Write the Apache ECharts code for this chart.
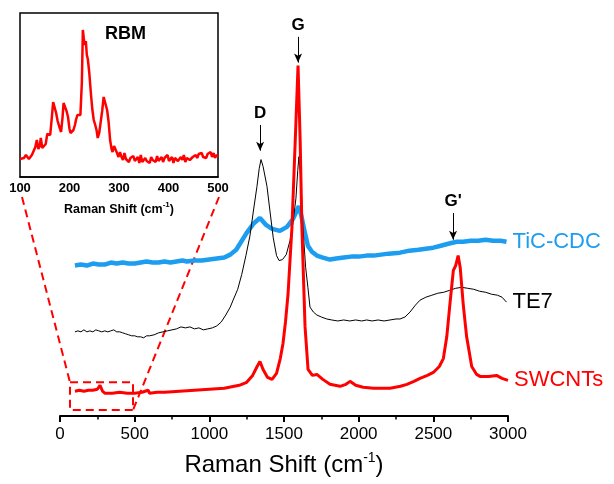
<!DOCTYPE html>
<html>
<head>
<meta charset="utf-8">
<script src="https://cdn.jsdelivr.net/npm/echarts@6/dist/echarts.min.js"></script>
<style>
  html, body { margin: 0; padding: 0; background: #fff; }
  #main { width: 614px; height: 484px; }
</style>
</head>
<body>
<div id="main"></div>
<script>
// Raman spectra, intensities are offset arbitrary units
var swcnts = [[100,25],[130,26],[160,25],[190,26],[220,26],[250,27],[268,31],[285,25],[300,23],[350,23],[400,24],[450,23],[500,23],[550,24],[590,26],[600,23],[650,24],[700,24],[800,25],[900,26],[1000,27],[1100,28],[1200,31],[1250,34],[1290,41],[1320,50],[1339,55],[1360,47],[1390,39],[1420,37],[1450,43],[1475,58],[1493,73],[1510,95],[1527,123],[1553,190],[1574,273],[1594,354],[1608,280],[1620,190],[1641,90],[1661,47],[1690,41],[1720,42],[1760,37],[1808,32],[1875,30],[1915,32],[1942,35],[1980,31],[2030,29],[2100,28],[2210,28],[2280,30],[2323,32],[2370,35],[2411,38],[2460,41],[2500,44],[2540,50],[2567,58],[2590,80],[2611,113],[2634,147],[2650,152],[2666,162],[2680,150],[2700,113],[2723,80],[2757,50],[2790,42],[2813,40],[2870,40],[2923,41],[2960,38],[3000,36]];

var te7 = [[100,85],[120,86],[140,85],[160,87],[180,85],[200,86],[220,85],[240,87],[260,86],[280,85],[300,86],[320,85],[340,86],[360,87],[380,85],[400,85],[420,84],[440,83],[460,82],[480,81],[500,81],[520,80],[540,80],[560,79],[580,81],[600,81],[630,82],[660,84],[690,85],[720,86],[750,87],[780,88],[810,90],[840,89],[870,90],[900,88],[930,89],[960,87],[990,88],[1020,89],[1050,91],[1080,95],[1110,102],[1140,110],[1159,117],[1190,128],[1217,143],[1245,162],[1272,182],[1295,207],[1319,232],[1334,250],[1346,259],[1360,252],[1386,232],[1406,207],[1428,180],[1450,162],[1467,157],[1490,158],[1515,163],[1540,177],[1560,195],[1580,220],[1592,248],[1600,262],[1612,240],[1627,190],[1645,150],[1660,130],[1674,110],[1697,105],[1720,102],[1750,100],[1786,98],[1820,97],[1860,96],[1900,97],[1940,96],[1980,97],[2020,96],[2054,97],[2090,96],[2130,97],[2170,96],[2210,97],[2250,98],[2277,98],[2310,100],[2344,105],[2380,112],[2411,117],[2450,120],[2490,122],[2530,124],[2570,125],[2610,127],[2650,129],[2690,130],[2730,129],[2770,128],[2810,126],[2850,125],[2890,123],[2930,122],[2960,120],[2990,115]];

var ticCdc = [[100,152],[140,153],[180,152],[220,154],[260,153],[300,153],[340,155],[380,154],[420,155],[460,154],[500,154],[540,155],[580,156],[620,155],[660,155],[700,156],[740,155],[780,156],[820,157],[850,156],[900,157],[950,157],[1000,158],[1050,159],[1100,160],[1140,163],[1180,168],[1205,174],[1250,185],[1300,195],[1339,200],[1380,193],[1420,189],[1473,187],[1520,191],[1560,199],[1585,207],[1599,212],[1615,203],[1640,185],[1660,172],[1687,166],[1720,162],[1760,160],[1808,158],[1850,159],[1900,160],[1950,161],[2000,161],[2054,162],[2100,162],[2150,163],[2200,164],[2277,165],[2340,167],[2400,168],[2450,169],[2500,170],[2550,172],[2600,174],[2656,176],[2700,176],[2750,177],[2800,177],[2850,178],[2900,177],[2950,177],[2990,176]];

// inset: RBM region of SWCNTs
var rbm = [[100,18],[104,17],[108,19],[112,22],[115,23],[118,18],[121,19],[124,22],[128,24],[131,30],[134,37],[137,28],[140,31],[142,39],[145,29],[149,31],[152,33],[155,43],[158,45],[161,42],[164,58],[167,75],[170,73],[173,64],[176,56],[179,51],[183,45],[186,60],[188,74],[191,72],[194,66],[197,60],[200,48],[202,44],[205,42],[208,47],[211,52],[213,57],[216,62],[219,64],[222,62],[225,95],[227,147],[229,138],[231,132],[233,136],[235,122],[237,118],[240,104],[243,85],[246,68],[249,57],[252,52],[255,46],[257,39],[260,44],[263,55],[266,66],[269,80],[273,82],[276,67],[279,55],[282,37],[285,28],[287,25],[290,31],[293,30],[296,24],[299,20],[302,25],[305,20],[308,17],[311,24],[314,18],[317,20],[320,15],[323,19],[326,17],[329,21],[332,16],[335,18],[338,20],[341,14],[344,22],[347,15],[350,17],[353,19],[356,16],[359,18],[362,14],[365,20],[368,17],[371,19],[374,15],[377,21],[380,16],[383,18],[386,20],[389,15],[392,19],[395,17],[398,22],[401,16],[404,18],[407,20],[410,14],[413,19],[416,21],[419,16],[422,18],[425,20],[428,17],[431,22],[434,15],[437,19],[440,21],[443,17],[446,15],[449,20],[452,18],[455,22],[458,19],[461,23],[464,21],[467,24],[470,20],[473,22],[476,19],[479,23],[482,21],[485,25],[488,20],[491,24],[494,19],[497,22],[500,21]];

// peak markers: x position, arrow top and arrow tip
var peakMarks = [
  { name: 'D',  x: 1340, from: 294, to: 268 },
  { name: 'G',  x: 1594, from: 383, to: 357 },
  { name: "G'", x: 2632, from: 205, to: 178 }
];

var FONT = 'Liberation Sans, Arial, sans-serif';
var myChart = echarts.init(document.getElementById('main'));

function trace(name, data, color, width, extra) {
  var s = {
    name: name,
    type: 'line',
    xAxisIndex: 0,
    yAxisIndex: 0,
    data: data,
    showSymbol: false,
    silent: true,
    lineStyle: { color: color, width: width },
    endLabel: {
      show: true,
      formatter: '{a}',
      color: color,
      fontFamily: FONT,
      fontSize: 22,
      distance: 6
    }
  };
  for (var k in extra) s[k] = extra[k];
  return s;
}

myChart.setOption({
  animation: false,
  backgroundColor: '#fff',
  title: {
    text: 'RBM',
    left: 105,
    top: 25,
    textStyle: { fontFamily: FONT, fontSize: 18, fontWeight: 'bold', color: '#000' },
    padding: 0
  },
  grid: [
    { left: 60, right: 106, top: 20, bottom: 64 },
    { left: 20, top: 13, width: 198, height: 164, show: true, borderColor: '#000', borderWidth: 1.5, backgroundColor: '#fff' }
  ],
  xAxis: [
    {
      gridIndex: 0,
      type: 'value',
      min: 0, max: 3000, interval: 500,
      name: 'Raman Shift (cm{sup|-1})',
      nameLocation: 'middle',
      nameGap: 35,
      nameTextStyle: {
        fontFamily: FONT, fontSize: 24, color: '#000', lineHeight: 28,
        rich: { sup: { fontFamily: FONT, fontSize: 14, color: '#000', verticalAlign: 'top', lineHeight: 28 } }
      },
      axisLine: { lineStyle: { color: '#000', width: 2 } },
      axisTick: { length: 6, lineStyle: { color: '#000', width: 2 } },
      minorTick: { show: true, splitNumber: 2, length: 3.5, lineStyle: { color: '#000', width: 1.5 } },
      axisLabel: { fontFamily: FONT, fontSize: 17, color: '#000', margin: 10, formatter: function (v) { return String(v); } },
      splitLine: { show: false }
    },
    {
      gridIndex: 1,
      type: 'value',
      min: 100, max: 500, interval: 100,
      name: 'Raman Shift (cm{sup|-1})',
      nameLocation: 'middle',
      nameGap: 24,
      nameTextStyle: {
        fontFamily: FONT, fontSize: 12.5, fontWeight: 'bold', color: '#000', lineHeight: 18,
        rich: { sup: { fontFamily: FONT, fontSize: 8, fontWeight: 'bold', color: '#000', verticalAlign: 'top', lineHeight: 18 } }
      },
      axisLine: { lineStyle: { color: '#000', width: 1.5 } },
      axisTick: { show: false },
      axisLabel: { fontFamily: FONT, fontSize: 13, fontWeight: 'bold', color: '#000', margin: 5 },
      splitLine: { show: false }
    }
  ],
  yAxis: [
    { gridIndex: 0, type: 'value', min: 0, max: 400, show: false, splitLine: { show: false } },
    { gridIndex: 1, type: 'value', min: 0, max: 164, show: false, splitLine: { show: false } }
  ],
  series: [
    trace('TiC-CDC', ticCdc, '#1C9DF0', 4.5, {}),
    trace('TE7', te7, '#000000', 1, {
      markLine: {
        silent: true,
        symbol: ['none', 'arrow'],
        symbolSize: [6, 9],
        lineStyle: { color: '#000', width: 1, type: 'solid' },
        label: {
          show: true, position: 'start', formatter: '{b}', distance: 3,
          fontFamily: FONT, fontSize: 17, fontWeight: 'bold', color: '#000'
        },
        data: peakMarks.map(function (p) {
          return [{ name: p.name, coord: [p.x, p.from] }, { coord: [p.x, p.to] }];
        })
      }
    }),
    trace('SWCNTs', swcnts, '#FF0000', 3, {
      z: 3,
      markArea: {
        silent: true,
        itemStyle: { color: 'rgba(0,0,0,0)', borderColor: '#FF0000', borderWidth: 2, borderType: [8, 5] },
        data: [[{ coord: [67, 34] }, { coord: [489, 6] }]]
      }
    }),
    {
      name: 'RBM',
      type: 'line',
      xAxisIndex: 1,
      yAxisIndex: 1,
      data: rbm,
      showSymbol: false,
      silent: true,
      lineStyle: { color: '#FF0000', width: 2.5 }
    }
  ]
});

// dashed zoom lines from the inset down to the boxed region
var boxTL = myChart.convertToPixel({ gridIndex: 0 }, [67, 34]);
var boxBR = myChart.convertToPixel({ gridIndex: 0 }, [489, 6]);
var insL = myChart.convertToPixel({ gridIndex: 1 }, [100, 0]);
var insR = myChart.convertToPixel({ gridIndex: 1 }, [500, 0]);
var dash = { stroke: '#FF0000', lineWidth: 2, lineDash: [8, 5] };
myChart.setOption({
  graphic: [
    { type: 'line', silent: true, shape: { x1: insL[0] + 2, y1: insL[1] + 20, x2: boxTL[0], y2: boxTL[1] }, style: dash },
    { type: 'line', silent: true, shape: { x1: insR[0] + 1, y1: insR[1] + 20, x2: boxBR[0], y2: boxBR[1] }, style: dash }
  ]
});
</script>
</body>
</html>
